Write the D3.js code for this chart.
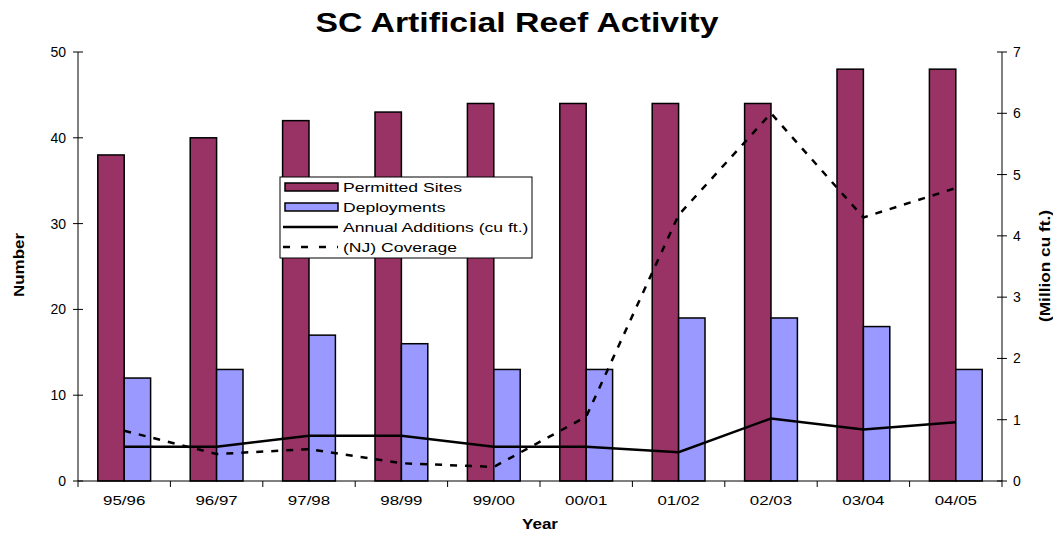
<!DOCTYPE html>
<html>
<head>
<meta charset="utf-8">
<script src="https://cdn.jsdelivr.net/npm/d3@7"></script>
<style>
  body { margin: 0; background: #fff; }
  text { font-family: Arial, "Liberation Sans", sans-serif; }
</style>
</head>
<body>
<script>
const years = ["95/96", "96/97", "97/98", "98/99", "99/00", "00/01", "01/02", "02/03", "03/04", "04/05"];
const permittedSites = [38, 40, 42, 43, 44, 44, 44, 44, 48, 48];
const deployments = [12, 13, 17, 16, 13, 13, 19, 19, 18, 13];
const annualAdditions = [0.56, 0.56, 0.74, 0.74, 0.56, 0.56, 0.47, 1.02, 0.84, 0.96];
const njCoverage = [0.82, 0.44, 0.52, 0.29, 0.23, 1.05, 4.34, 6.0, 4.3, 4.78];
const leftTicks = [0, 10, 20, 30, 40, 50];
const rightTicks = [0, 1, 2, 3, 4, 5, 6, 7];

const W = 1053, H = 533;
const plotLeft = 78, plotRight = 1002, plotTop = 52, plotBottom = 481;

const svg = d3.select("body").append("svg")
    .attr("width", W)
    .attr("height", H);

// the original text is drawn a bit wider than Arial, stretch it
function stretch(sel, k) {
    sel.each(function () {
        const w = this.getComputedTextLength();
        d3.select(this).attr("textLength", w * k).attr("lengthAdjust", "spacingAndGlyphs");
    });
}

const x = d3.scaleBand().domain(years).range([plotLeft, plotRight]);
const xb = d3.scaleBand().domain(["p", "d"]).range([0, x.bandwidth()]).paddingOuter(0.75).paddingInner(0);
const yL = d3.scaleLinear().domain([0, 50]).range([plotBottom, plotTop]);
const yR = d3.scaleLinear().domain([0, 7]).range([plotBottom, plotTop]);

// title
svg.append("text")
    .attr("x", 517).attr("y", 32)
    .attr("text-anchor", "middle")
    .style("font-size", "28px").style("font-weight", "bold")
    .text("SC Artificial Reef Activity")
    .attr("textLength", 403).attr("lengthAdjust", "spacingAndGlyphs");

// bars
const groups = svg.append("g").selectAll("g")
    .data(years)
    .join("g")
    .attr("transform", d => `translate(${x(d)},0)`);

groups.append("rect")
    .attr("x", xb("p"))
    .attr("y", (d, i) => yL(permittedSites[i]))
    .attr("width", xb.bandwidth())
    .attr("height", (d, i) => plotBottom - yL(permittedSites[i]))
    .attr("fill", "#993366")
    .attr("stroke", "#000").attr("stroke-width", 1.5);

groups.append("rect")
    .attr("x", xb("d"))
    .attr("y", (d, i) => yL(deployments[i]))
    .attr("width", xb.bandwidth())
    .attr("height", (d, i) => plotBottom - yL(deployments[i]))
    .attr("fill", "#9999FF")
    .attr("stroke", "#000").attr("stroke-width", 1.5);

// lines
const cx = d => x(d) + x.bandwidth() / 2;
const line = vals => d3.line().x((d, i) => cx(years[i])).y((d, i) => yR(vals[i]))(vals);

svg.append("path")
    .attr("d", line(annualAdditions))
    .attr("fill", "none").attr("stroke", "#000").attr("stroke-width", 2.5);

svg.append("path")
    .attr("d", line(njCoverage))
    .attr("fill", "none").attr("stroke", "#000").attr("stroke-width", 2.5)
    .attr("stroke-dasharray", "7,8");

// left axis
const axL = svg.append("g");
axL.append("line").attr("x1", plotLeft).attr("x2", plotLeft).attr("y1", plotTop).attr("y2", plotBottom).attr("stroke", "#000");
axL.selectAll("line.t").data(leftTicks).join("line")
    .attr("class", "t")
    .attr("x1", plotLeft - 5).attr("x2", plotLeft + 5)
    .attr("y1", d => yL(d)).attr("y2", d => yL(d))
    .attr("stroke", "#000");
axL.selectAll("text").data(leftTicks).join("text")
    .attr("x", plotLeft - 12).attr("y", d => yL(d) + 5)
    .attr("text-anchor", "end")
    .style("font-size", "14px")
    .text(d => d);

// right axis
const axR = svg.append("g");
axR.append("line").attr("x1", plotRight).attr("x2", plotRight).attr("y1", plotTop).attr("y2", plotBottom).attr("stroke", "#000");
axR.selectAll("line.t").data(rightTicks).join("line")
    .attr("class", "t")
    .attr("x1", plotRight - 5).attr("x2", plotRight + 5)
    .attr("y1", d => yR(d)).attr("y2", d => yR(d))
    .attr("stroke", "#000");
axR.selectAll("text").data(rightTicks).join("text")
    .attr("x", plotRight + 11).attr("y", d => yR(d) + 5)
    .style("font-size", "14px")
    .text(d => d);

// bottom axis
const axB = svg.append("g");
axB.append("line").attr("x1", plotLeft).attr("x2", plotRight).attr("y1", plotBottom).attr("y2", plotBottom).attr("stroke", "#000");
axB.selectAll("line.t").data(years.concat(["end"])).join("line")
    .attr("class", "t")
    .attr("x1", (d, i) => plotLeft + i * x.step()).attr("x2", (d, i) => plotLeft + i * x.step())
    .attr("y1", plotBottom).attr("y2", plotBottom + 6)
    .attr("stroke", "#000");
axB.selectAll("text").data(years).join("text")
    .attr("x", d => cx(d)).attr("y", 505)
    .attr("text-anchor", "middle")
    .style("font-size", "13px")
    .text(d => d)
    .call(stretch, 1.3);

// axis titles
svg.append("text")
    .attr("transform", "translate(24,265) rotate(-90)")
    .attr("text-anchor", "middle")
    .style("font-size", "15px").style("font-weight", "bold")
    .text("Number")
    .attr("textLength", 64).attr("lengthAdjust", "spacingAndGlyphs");
svg.append("text")
    .attr("transform", "translate(1050,266) rotate(-90)")
    .attr("text-anchor", "middle")
    .style("font-size", "14px").style("font-weight", "bold")
    .text("(Million cu ft.)")
    .attr("textLength", 112).attr("lengthAdjust", "spacingAndGlyphs");
svg.append("text")
    .attr("x", 540).attr("y", 529)
    .attr("text-anchor", "middle")
    .style("font-size", "14px").style("font-weight", "bold")
    .text("Year")
    .attr("textLength", 36).attr("lengthAdjust", "spacingAndGlyphs");

// legend
const lg = svg.append("g").attr("transform", "translate(280,177)");
lg.append("rect").attr("width", 252).attr("height", 81)
    .attr("fill", "#fff").attr("stroke", "#000");
const items = [
    { name: "Permitted Sites", type: "rect", color: "#993366" },
    { name: "Deployments", type: "rect", color: "#9999FF" },
    { name: "Annual Additions (cu ft.)", type: "line" },
    { name: "(NJ) Coverage", type: "dash" }
];
items.forEach((it, i) => {
    const cy = 10 + i * 20;
    if (it.type === "rect") {
        lg.append("rect").attr("x", 5).attr("y", cy - 4).attr("width", 53).attr("height", 8)
            .attr("fill", it.color).attr("stroke", "#000").attr("stroke-width", 1.5);
    } else {
        lg.append("line").attr("x1", 3).attr("x2", 58).attr("y1", cy).attr("y2", cy)
            .attr("stroke", "#000").attr("stroke-width", 2.5)
            .attr("stroke-dasharray", it.type === "dash" ? "7,11" : null);
    }
    lg.append("text").attr("x", 63).attr("y", cy + 5)
        .style("font-size", "13.5px")
        .text(it.name)
        .call(stretch, 1.3);
});
</script>
</body>
</html>
